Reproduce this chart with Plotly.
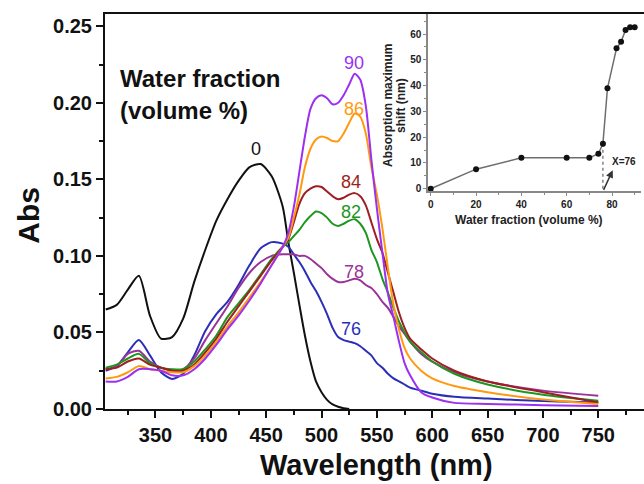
import plotly.graph_objects as go

FONT = "Liberation Sans, Arial, Helvetica, sans-serif"

# ---------------- main spectra data ----------------
WL = [305, 315, 325, 335, 345, 355, 365, 375, 385, 395, 405, 415, 425, 435, 445, 455,
      465, 470, 475, 480, 485, 490, 495, 500, 505, 510, 515, 520, 525, 530, 535, 540,
      545, 550, 555, 560, 565, 570, 575, 580, 590, 600, 620, 650, 700, 750]

abs_0 = [0.065, 0.068, 0.078, 0.087, 0.061, 0.046, 0.047, 0.059, 0.083, 0.104, 0.123, 0.137,
         0.149, 0.158, 0.160, 0.152, 0.132, 0.109, 0.089, 0.068, 0.048, 0.031, 0.018, 0.011,
         0.006, 0.003, 0.0015, 0.0005, 0.0, None, None, None, None, None, None, None, None,
         None, None, None, None, None, None, None, None, None]

abs_76 = [0.025, 0.028, 0.037, 0.045, 0.035, 0.024, 0.0196, 0.023, 0.035, 0.051, 0.062, 0.070,
          0.081, 0.094, 0.105, 0.109, 0.108, 0.106, 0.101, 0.096, 0.090, 0.083, 0.077, 0.070,
          0.062, 0.053, 0.047, 0.045, 0.044, 0.043, 0.041, 0.038, 0.035, 0.030, 0.027, 0.023,
          0.020, 0.018, 0.016, 0.014, 0.012, 0.010, 0.008, 0.0068, 0.0052, 0.0043]

abs_78 = [0.026, 0.028, 0.036, 0.038, 0.031, 0.027, 0.025, 0.026, 0.033, 0.045, 0.056, 0.067,
          0.079, 0.089, 0.096, 0.100, 0.101, 0.101, 0.101, 0.100, 0.100, 0.098, 0.095, 0.092,
          0.088, 0.085, 0.083, 0.083, 0.084, 0.085, 0.084, 0.081, 0.079, 0.075, 0.070, 0.066,
          0.060, 0.054, 0.049, 0.044, 0.036, 0.031, 0.024, 0.018, 0.012, 0.0087]

abs_82 = [0.027, 0.029, 0.033, 0.036, 0.030, 0.027, 0.026, 0.026, 0.031, 0.039, 0.048, 0.060,
          0.069, 0.078, 0.088, 0.098, 0.106, 0.109, 0.113, 0.117, 0.122, 0.126, 0.129, 0.128,
          0.125, 0.121, 0.1195, 0.121, 0.123, 0.124, 0.121, 0.115, 0.104, 0.096, 0.085, 0.076,
          0.066, 0.057, 0.050, 0.044, 0.037, 0.031, 0.023, 0.016, 0.0093, 0.0054]

abs_84 = [0.026, 0.027, 0.031, 0.033, 0.029, 0.027, 0.025, 0.025, 0.029, 0.037, 0.046, 0.057,
          0.067, 0.077, 0.087, 0.097, 0.106, 0.111, 0.122, 0.134, 0.141, 0.144, 0.1455, 0.145,
          0.142, 0.139, 0.137, 0.138, 0.140, 0.141, 0.139, 0.133, 0.122, 0.111, 0.102, 0.089,
          0.076, 0.063, 0.053, 0.046, 0.039, 0.033, 0.025, 0.018, 0.011, 0.0043]

abs_86 = [0.020, 0.021, 0.024, 0.028, 0.026, 0.025, 0.024, 0.024, 0.028, 0.035, 0.044, 0.054,
          0.063, 0.073, 0.083, 0.094, 0.106, 0.112, 0.125, 0.140, 0.158, 0.170, 0.176, 0.178,
          0.177, 0.175, 0.175, 0.180, 0.187, 0.193, 0.191, 0.180, 0.158, 0.140, 0.118, 0.092,
          0.068, 0.052, 0.040, 0.033, 0.025, 0.020, 0.015, 0.011, 0.0062, 0.0033]

abs_90 = [0.018, 0.018, 0.021, 0.026, 0.026, 0.025, 0.022, 0.022, 0.026, 0.033, 0.042, 0.052,
          0.061, 0.071, 0.082, 0.094, 0.106, 0.115, 0.132, 0.155, 0.178, 0.196, 0.203, 0.205,
          0.203, 0.199, 0.200, 0.205, 0.212, 0.219, 0.215, 0.198, 0.163, 0.131, 0.102, 0.075,
          0.060, 0.044, 0.030, 0.022, 0.011, 0.0075, 0.004, 0.0033, 0.0025, 0.002]

series = [
    ("0", abs_0, "#111111", 441, 0.170),
    ("76", abs_76, "#2B2FB8", 527, 0.0523),
    ("78", abs_78, "#9A3399", 529, 0.0892),
    ("82", abs_82, "#1E961E", 527, 0.129),
    ("84", abs_84, "#9E1F22", 527, 0.1485),
    ("86", abs_86, "#FF9A10", 529, 0.196),
    ("90", abs_90, "#9B30F0", 529, 0.2261),
]

# ---------------- inset data ----------------
water_frac = [0, 20, 40, 60, 70, 74, 76, 78, 82, 84, 86, 88, 90]
shift_nm = [0, 7.6, 12, 12, 12, 13.6, 17.5, 39, 54.5, 57, 61.6, 62.7, 62.7]

fig = go.Figure()

for name, vals, col, lx, ly in series:
    fig.add_trace(go.Scatter(x=WL, y=vals, mode="lines", name=name,
                             line=dict(color=col, width=2, shape="spline", smoothing=0.7),
                             showlegend=False, hoverinfo="skip"))
    fig.add_annotation(x=lx, y=ly, xref="x", yref="y", text=name, showarrow=False,
                       xanchor="center", yanchor="middle",
                       font=dict(family=FONT, size=18, color=col))

# inset
fig.add_trace(go.Scatter(x=[76, 76], y=[0, 17.5], xaxis="x2", yaxis="y2", mode="lines",
                         line=dict(color="#444", width=1, dash="dot"),
                         showlegend=False, hoverinfo="skip"))
fig.add_trace(go.Scatter(x=water_frac, y=shift_nm, xaxis="x2", yaxis="y2", mode="lines+markers",
                         line=dict(color="#6e6e6e", width=1.5),
                         marker=dict(color="#111", size=6),
                         cliponaxis=False, showlegend=False, hoverinfo="skip"))

fig.add_annotation(x=80.3, y=7.2, xref="x2", yref="y2", ax=76, ay=-1.0, axref="x2", ayref="y2",
                   text="", showarrow=True, arrowhead=2, arrowsize=1, arrowwidth=1.5,
                   arrowcolor="#333")
fig.add_annotation(x=85.2, y=10.4, xref="x2", yref="y2", text="<b>X=76</b>", showarrow=False,
                   xanchor="center", yanchor="middle",
                   font=dict(family=FONT, size=10, color="#222"))

def px_x(p):
    return (p - 105) / 539.0

def px_y(p):
    return (409.5 - p) / 395.5

# text annotations
fig.add_annotation(x=316, y=0.2161, xref="x", yref="y", text="<b>Water fraction</b>",
                   xanchor="left", yanchor="middle", showarrow=False,
                   font=dict(family=FONT, size=24, color="#111"))
fig.add_annotation(x=316, y=0.1952, xref="x", yref="y", text="<b>(volume %)</b>",
                   xanchor="left", yanchor="middle", showarrow=False,
                   font=dict(family=FONT, size=24, color="#111"))

fig.add_annotation(x=px_x(376), y=px_y(466), xref="paper", yref="paper",
                   xanchor="center", yanchor="middle",
                   text="<b>Wavelength (nm)</b>", showarrow=False,
                   font=dict(family=FONT, size=29, color="#111"))
fig.add_annotation(x=px_x(29), y=px_y(216), xref="paper", yref="paper",
                   xanchor="center", yanchor="middle",
                   text="<b>Abs</b>", textangle=-90, showarrow=False,
                   font=dict(family=FONT, size=30, color="#111"))

fig.add_annotation(x=px_x(529), y=px_y(220), xref="paper", yref="paper",
                   xanchor="center", yanchor="middle",
                   text="<b>Water fraction (volume %)</b>", showarrow=False,
                   font=dict(family=FONT, size=12, color="#222"))
fig.add_annotation(x=px_x(388), y=px_y(106), xref="paper", yref="paper",
                   xanchor="center", yanchor="middle",
                   text="<b>Absorption maximum</b>", textangle=-90, showarrow=False,
                   font=dict(family=FONT, size=12, color="#222"))
fig.add_annotation(x=px_x(401), y=px_y(106), xref="paper", yref="paper",
                   xanchor="center", yanchor="middle",
                   text="<b>shift (nm)</b>", textangle=-90, showarrow=False,
                   font=dict(family=FONT, size=12, color="#222"))

fig.update_layout(
    width=644, height=484,
    margin=dict(l=105, r=0, t=14, b=74.5),
    paper_bgcolor="white", plot_bgcolor="white",
    font=dict(family=FONT, color="#111"),
    xaxis=dict(range=[304.4, 791.3], showline=True, linecolor="#111", linewidth=2,
               mirror=True, ticks="outside", ticklen=7, tickwidth=2, tickcolor="#111",
               showgrid=False, zeroline=False,
               tickvals=[350, 400, 450, 500, 550, 600, 650, 700, 750, 800],
               minor=dict(ticks="outside", ticklen=4, tickwidth=2, tickcolor="#111",
                          tick0=0, dtick=25, showgrid=False),
               tickfont=dict(family=FONT, size=20, color="#111", weight="bold")),
    yaxis=dict(range=[0, 0.258], showline=True, linecolor="#111", linewidth=2,
               ticks="outside", ticklen=7, tickwidth=2, tickcolor="#111",
               tick0=0, dtick=0.05, tickformat=".2f", showgrid=False, zeroline=False,
               minor=dict(ticks="outside", ticklen=4, tickwidth=2, tickcolor="#111",
                          tick0=0, dtick=0.025, showgrid=False),
               tickfont=dict(family=FONT, size=20, color="#111", weight="bold")),
    xaxis2=dict(domain=[px_x(428), px_x(641)], anchor="y2", range=[-1.2, 92.8],
                showline=True, linecolor="#888", linewidth=1.5, ticks="outside",
                ticklen=3, tickwidth=1.2, tickcolor="#888", tick0=0, dtick=20,
                showgrid=False, zeroline=False,
                minor=dict(ticks="outside", ticklen=2, tickwidth=1, tickcolor="#888",
                           tick0=0, dtick=10, showgrid=False),
                tickfont=dict(family=FONT, size=10, color="#222", weight="bold")),
    yaxis2=dict(domain=[px_y(191.7), 1.0], anchor="x2", range=[-1.05, 67.8],
                showline=True, linecolor="#888", linewidth=1.5, ticks="outside",
                ticklen=3, tickwidth=1.2, tickcolor="#888", tick0=0, dtick=10,
                showgrid=False, zeroline=False,
                minor=dict(ticks="outside", ticklen=2, tickwidth=1, tickcolor="#888",
                           tick0=0, dtick=5, showgrid=False),
                tickfont=dict(family=FONT, size=10, color="#222", weight="bold")),
)

fig.write_html("out.html")
